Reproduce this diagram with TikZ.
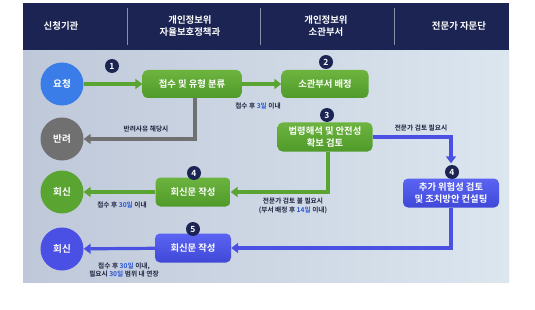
\documentclass[tikz,border=0pt]{standalone}
\usepackage{fontspec}
\setmainfont{Noto Sans CJK KR}[UprightFont={* Bold},BoldFont={* Bold}]
\usetikzlibrary{arrows.meta}
\definecolor{navy}{HTML}{1B2452}
\definecolor{hdrline}{HTML}{8A90A8}
\definecolor{bgL}{HTML}{BEC8D9}
\definecolor{bgR}{HTML}{DCE6EF}
\definecolor{gTop}{HTML}{6DB43F}
\definecolor{gBot}{HTML}{4F9A2A}
\definecolor{gLine}{HTML}{5AA531}
\definecolor{bTop}{HTML}{5C64F2}
\definecolor{bBot}{HTML}{3F48D8}
\definecolor{bLine}{HTML}{4A50E4}
\definecolor{reqblue}{HTML}{3B7DE8}
\definecolor{grayc}{HTML}{707070}
\definecolor{hl}{HTML}{2A56D6}
\definecolor{lbl}{HTML}{1E2440}
\tikzset{
  hdr/.style={text=white, font=\fontsize{9.4}{11.5}\selectfont\bfseries, align=center},
  circ/.style={circle, minimum size=43pt, inner sep=0pt, text=white, font=\fontsize{9.6}{10}\selectfont\bfseries},
  gbox/.style={rounded corners=5pt, top color=gTop, bottom color=gBot, text=white, align=center,
    inner sep=0pt, minimum height=28pt, font=\fontsize{9.3}{11.5}\selectfont\bfseries},
  bbox/.style={rounded corners=5pt, top color=bTop, bottom color=bBot, text=white, align=center,
    inner sep=0pt, minimum height=28pt, font=\fontsize{9.3}{11.5}\selectfont\bfseries},
  badge/.style={circle, fill=navy, text=white, minimum size=14pt, inner sep=0pt, font=\fontsize{8.5}{8}\selectfont\bfseries},
  small/.style={text=lbl, align=center, font=\fontsize{6.7}{8.6}\selectfont\bfseries},
  garrow/.style={draw=gLine, line width=3.2pt, -{Triangle[width=10pt,length=7pt]}},
  barrow/.style={draw=bLine, line width=3.2pt, -{Triangle[width=10pt,length=7pt]}},
  grarrow/.style={draw=grayc, line width=3.2pt, -{Triangle[width=10pt,length=7pt]}},
}
\newcommand{\hb}[1]{\textcolor{hl}{#1}}
\begin{document}
\begin{tikzpicture}[x=1pt,y=-1pt]
\useasboundingbox (0,0) rectangle (535,310);
\fill[white] (0,0) rectangle (535,310);
\shade[left color=bgL, right color=bgR] (23,50) rectangle (509,282);
\fill[navy] (23,3) rectangle (509,50);
\draw[hdrline, line width=0.6pt] (127,8) -- (127,45);
\draw[hdrline, line width=0.6pt] (260,8) -- (260,45);
\draw[hdrline, line width=0.6pt] (394,8) -- (394,45);
\node[hdr] (h1) at (61,26) {신청기관};
\node[hdr] (h2) at (190,26) {개인정보위\\자율보호정책과};
\node[hdr] (h3) at (326,26) {개인정보위\\소관부서};
\node[hdr] (h4) at (459,26) {전문가 자문단};

\node[circ, fill=reqblue] (req) at (62,84) {요청};
\node[circ, fill=grayc] (rej) at (62,139) {반려};
\node[circ, fill=gLine] (ansg) at (62,192) {회신};
\node[circ, fill=bLine] (ansb) at (62,249) {회신};

\node[gbox, minimum width=99pt] (recv) at (192,84) {접수 및 유형 분류};
\node[gbox, minimum width=87pt] (assign) at (325,84) {소관부서 배정};
\node[gbox, minimum width=95pt, minimum height=29pt] (review) at (325,137) {법령해석 및 안전성\\확보 검토};
\node[bbox, minimum width=96pt, minimum height=29pt] (expert) at (451,193) {추가 위험성 검토\\및 조치방안 컨설팅};
\node[gbox, minimum width=75pt, minimum height=29pt] (replyg) at (193,192) {회신문 작성};
\node[bbox, minimum width=76pt, minimum height=29pt] (replyb) at (193,248) {회신문 작성};

\draw[garrow] (req) -- (recv);
\draw[garrow] (recv) -- (assign);
\draw[grarrow] ([xshift=3pt]recv.south) |- (rej);
\draw[barrow, shorten >=15pt] (review.east) -| (expert.north);
\draw[garrow] ([xshift=3pt]review.south) |- (replyg);
\draw[barrow] (expert.south) |- (replyb);
\draw[garrow] (replyg) -- (ansg);
\draw[barrow] (replyb) -- (ansb);

\node[badge] (n1) at (112,66) {1};
\node[badge] (n2) at (326,62) {2};
\node[badge] (n3) at (327,115) {3};
\node[badge] (n4g) at (194,173) {4};
\node[badge] (n4b) at (452,172) {4};
\node[badge] (n5) at (193,229) {5};

\node[small] (l1) at (258,106) {접수 후 \hb{3일} 이내};
\node[small] (l2) at (146,129) {반려사유 해당시};
\node[small] (l3) at (421,128) {전문가 검토 필요시};
\node[small] (l4) at (293,206) {전문가 검토 불 필요시\\(부서 배정 후 \hb{14일} 이내)};
\node[small] (l5) at (122,205) {접수 후 \hb{30일} 이내};
\node[small] (l6) at (124,270) {접수 후 \hb{30일} 이내,\\필요시 \hb{30일} 범위 내 연장};
\end{tikzpicture}
\end{document}
